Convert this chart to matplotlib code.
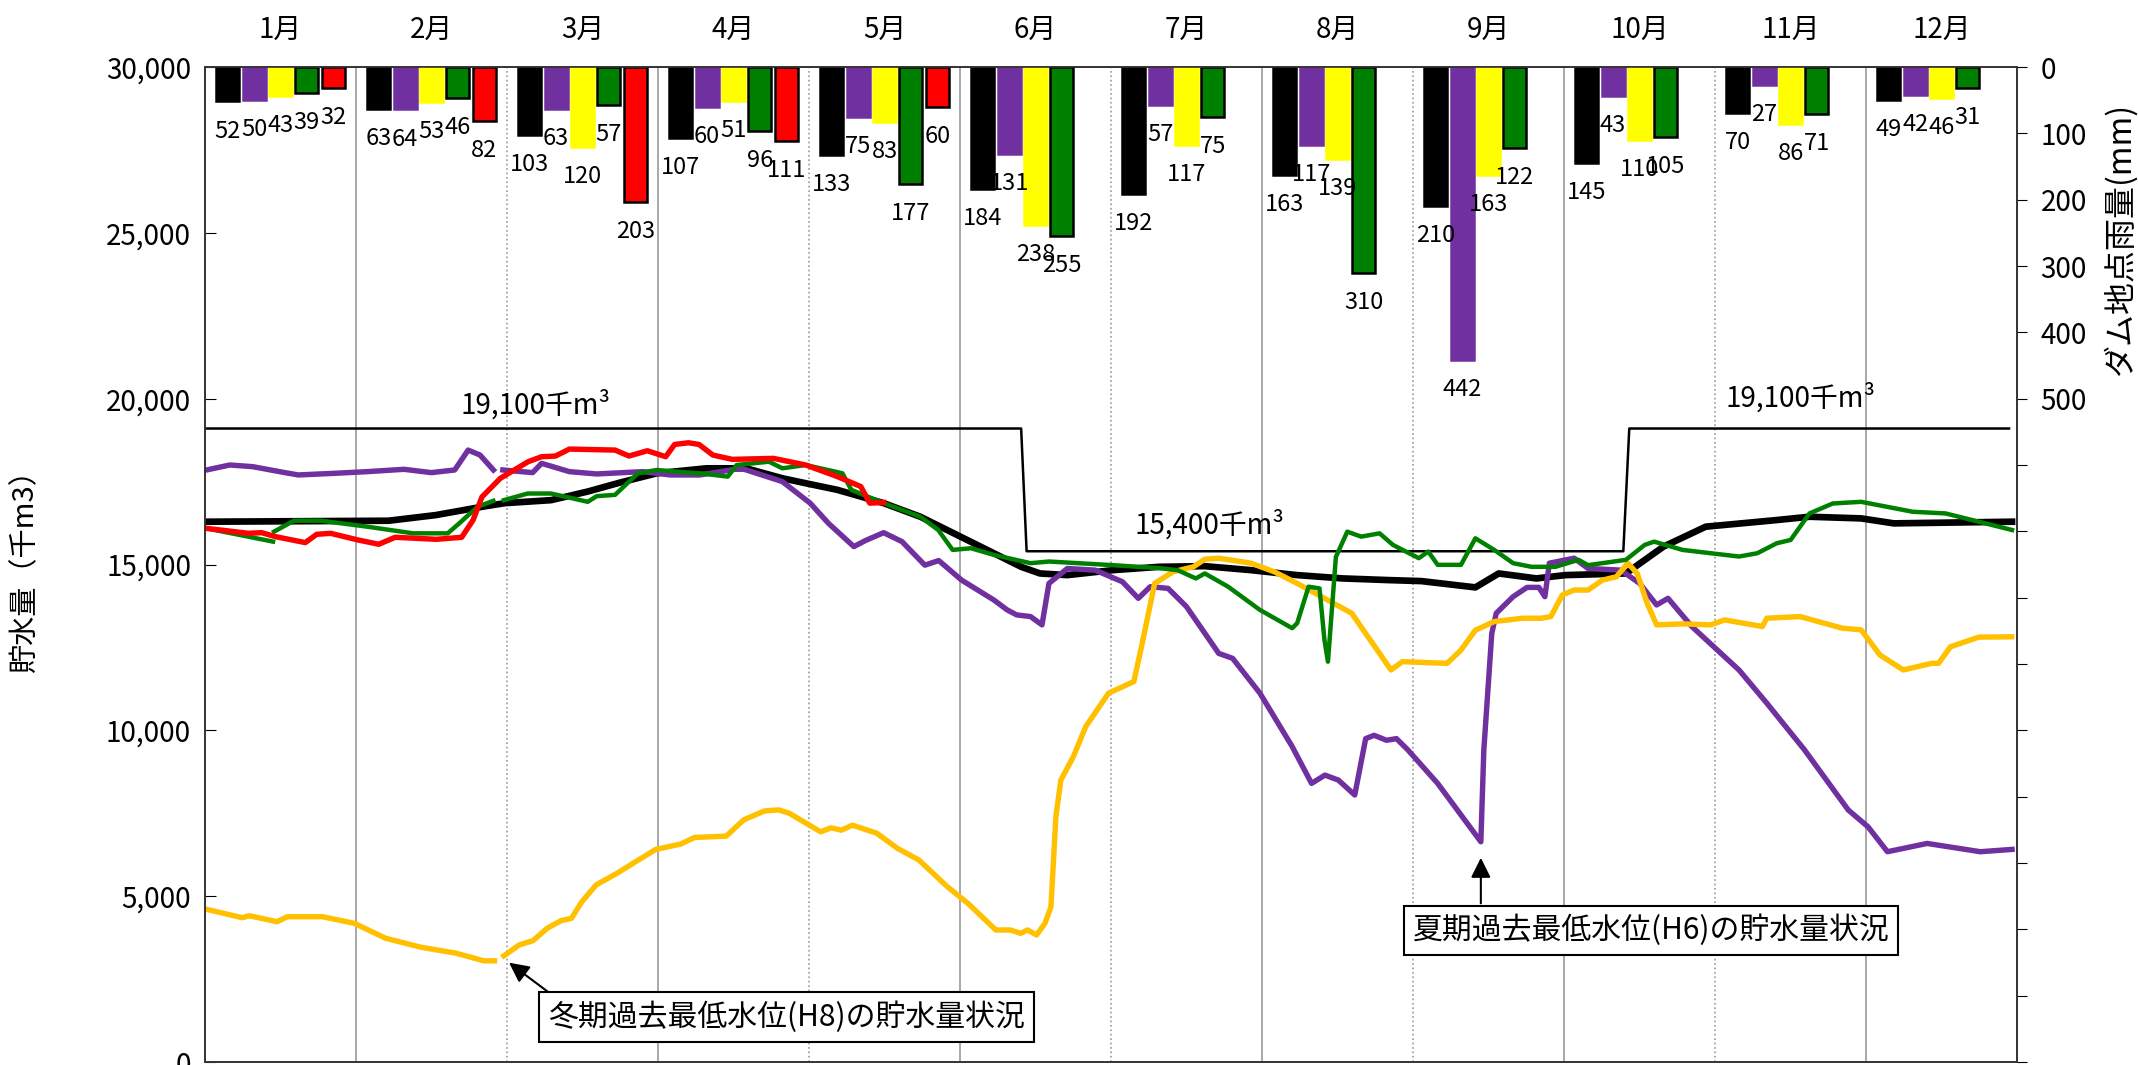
import numpy as np
import matplotlib
matplotlib.use("Agg")
import matplotlib.pyplot as plt

plt.rcParams['font.family'] = ['Noto Sans CJK JP', 'DejaVu Sans']

nan = np.nan

months = ["1月", "2月", "3月", "4月", "5月", "6月", "7月", "8月", "9月", "10月", "11月", "12月"]

# monthly rainfall at the dam (mm), one list per year
rain_black = [52, 63, 103, 107, 133, 184, 192, 163, 210, 145, 70, 49]
rain_purple = [50, 64, 63, 60, 75, 131, 57, 117, 442, 43, 27, 42]
rain_yellow = [43, 53, 120, 51, 83, 238, 117, 139, 163, 110, 86, 46]
rain_green = [39, 46, 57, 96, 177, 255, 75, 310, 122, 105, 71, 31]
rain_red = [32, 82, 203, 111, 60, nan, nan, nan, nan, nan, nan, nan]

# storage (thousand m3) against day of year
black_days = [0.3, 37, 46.5, 55.8, 60.4, 69.7, 77.1, 83.6, 91, 101, 109, 116.3, 121, 127.4,
              136.7, 144.1, 151.5, 158.9, 164.4, 168.2, 173.7, 182.9, 192.2, 201.4, 210.7,
              220, 229.2, 238.4, 245, 255.9, 260.6, 268.2, 274, 286.2, 293.8, 302.3, 316.6,
              323.2, 333.6, 340.2, 364]
black_vals = [16290, 16320, 16490, 16740, 16850, 16940, 17200, 17470, 17750, 17900, 17900,
              17600, 17450, 17250, 16850, 16440, 15890, 15340, 14930, 14730, 14680, 14830,
              14930, 14950, 14830, 14680, 14580, 14530, 14500, 14310, 14730, 14580, 14680,
              14730, 15540, 16140, 16340, 16440, 16390, 16240, 16290]

green_days = [0.3, 13.7, nan, 13.9, 17.9, 23.4, 32.7, 41.9, 48.9, 51.2, 54.9, 58.1, nan, 60.2,
              65, 69.7, 77.1, 78.9, 82.6, 87.2, 91, 97.4, 99.7, 105.3, 107.1, 113.6, 116.3,
              121, 128.4, 130.2, 136.7, 144.1, 147.7, 150.6, 154.3, 158.9, 166.3, 170, 182.9,
              192.2, 195.9, 199.6, 201.4, 206.1, 212.5, 219, 220, 222.3, 224.5, 225.5, 226.2,
              227.8, 230.1, 232.9, 236.6, 239.3, 244.5, 246.4, 248.3, 253, 255.9, 259.7,
              263.5, 267.2, 272, 276.7, 278.6, 286.2, 290, 291.9, 297.6, 309, 312.7, 316.6,
              319.4, 323.2, 327.9, 333.6, 344, 350.6, 364]
green_vals = [16090, 15690, nan, 15990, 16320, 16320, 16140, 15940, 15940, 16240, 16740, 16920,
              nan, 16940, 17140, 17140, 16890, 17060, 17100, 17750, 17850, 17770, 17750, 17650,
              18000, 18100, 17900, 18000, 17750, 17250, 16850, 16440, 16040, 15440, 15490,
              15290, 15040, 15090, 14980, 14890, 14830, 14580, 14730, 14330, 13630, 13080,
              13230, 14330, 14280, 12720, 12070, 15230, 15990, 15840, 15940, 15590, 15190,
              15390, 14990, 14990, 15790, 15440, 15040, 14930, 14930, 15140, 14980, 15140,
              15590, 15690, 15440, 15240, 15340, 15640, 15740, 16540, 16840, 16890, 16590,
              16540, 16040]

red_days = [0.3, 8.7, 11.4, 14.2, 20.2, 22.5, 25.3, 30.8, 35, 38.3, 46.6, 51.7, 54, 55.8, 59.5,
            65.1, 67.8, 70.6, 73.4, 82.6, 85.4, 89.1, 92.8, 94.6, 97.4, 99.5, 102.3, 106.2,
            114.5, 121, 127.4, 132.1, 133.9, 136.7]
red_vals = [16090, 15940, 15960, 15840, 15660, 15910, 15940, 15740, 15610, 15820, 15760, 15820,
            16340, 17040, 17600, 18100, 18250, 18270, 18480, 18450, 18270, 18430, 18250, 18620,
            18670, 18620, 18300, 18170, 18200, 18000, 17650, 17350, 16850, 16870]

purple_days = [0.3, 5, 9.6, 16.1, 18.8, 26.2, 32.7, 40.1, 45.6, 50.3, 53, 55.4, 58.1, nan, 60,
               66, 67.8, 73.4, 78.9, 88.2, 93.7, 99.7, 108, 116.3, 121.9, 125.6, 130.7, 133,
               136.7, 140.4, 145, 147.8, 152.4, 158.9, 161.6, 163.5, 166.3, 168.6, 170, 173.7,
               179.3, 184.8, 188, 190.4, 194, 197.7, 204.2, 207, 212.5, 219, 222.9, 225.6,
               228.3, 231.6, 233.8, 235.5, 238, 240, 242.3, 248.3, 257, 257.6, 259.2, 260.1,
               263.5, 266.3, 268.7, 269.9, 270.8, 275.8, 278.6, 285.2, 289, 292.4, 294.7,
               299.5, 309, 314.6, 322.2, 331, 335, 338.9, 346.9, 357.6, 364]
purple_vals = [17850, 18000, 17950, 17770, 17700, 17750, 17800, 17870, 17770, 17850, 18450,
               18300, 17850, nan, 17850, 17770, 18050, 17800, 17730, 17800, 17700, 17700, 17900,
               17500, 16850, 16240, 15540, 15720, 15960, 15690, 14980, 15120, 14530, 13930,
               13630, 13480, 13430, 13180, 14430, 14880, 14830, 14480, 13980, 14330, 14280,
               13730, 12320, 12170, 11120, 9510, 8400, 8650, 8500, 8050, 9750, 9850, 9700,
               9750, 9410, 8400, 6640, 9410, 12920, 13530, 14030, 14310, 14310, 14030, 15040,
               15190, 14880, 14830, 14430, 13780, 13980, 13130, 11820, 10820, 9410, 7600, 7090,
               6340, 6590, 6340, 6410]

orange_days = [0.4, 7.5, 8.9, 14.5, 16.6, 23.7, 30.1, 36.4, 43.5, 50.6, 56.2, 58.3, nan, 60.2,
               63.3, 66.1, 68.9, 71.7, 73.8, 75.9, 78.8, 83, 87.3, 90.8, 95.8, 98.6, 105, 108.5,
               112.7, 115.6, 117.7, 124, 126.1, 128.2, 130.4, 135.3, 139.5, 143.8, 149.5, 153.7,
               159.3, 162.2, 164.3, 165.7, 167.5, 169.2, 170.4, 171.4, 172.4, 174.9, 177.4, 182,
               187.1, 188.5, 191.3, 195, 199.1, 201.4, 204.2, 210.7, 215.4, 220, 225.5, 231,
               233.8, 236.6, 238.9, 241.2, 250.2, 253, 255.9, 259.7, 265.4, 269.2, 271.1, 273.4,
               275.8, 278.6, 281.5, 284.3, 286.6, 288.5, 290.5, 292.4, 297.6, 303.3, 306.1,
               313.7, 314.6, 321.3, 329.8, 333.6, 337.4, 342.1, 347.8, 349.2, 351.6, 357.3, 363.9]
orange_vals = [4600, 4350, 4410, 4230, 4380, 4380, 4180, 3730, 3460, 3280, 3050, 3050, nan,
               3200, 3530, 3660, 4030, 4260, 4330, 4830, 5340, 5690, 6090, 6410, 6570, 6770, 6810,
               7300, 7570, 7600, 7500, 6940, 7060, 6990, 7140, 6900, 6440, 6090, 5290, 4780,
               3980, 3980, 3880, 3980, 3830, 4180, 4680, 7400, 8500, 9200, 10110, 11120, 11470,
               12420, 14430, 14780, 14930, 15160, 15190, 15040, 14780, 14430, 13980, 13530,
               12920, 12320, 11820, 12070, 12020, 12420, 13020, 13280, 13380, 13380, 13430,
               14080, 14230, 14230, 14530, 14630, 15040, 14730, 13830, 13180, 13210, 13180,
               13330, 13130, 13380, 13430, 13080, 13030, 12270, 11820, 12020, 12020, 12520,
               12810, 12820]

# restricted water level (thousand m3)
limit_days = [0.3, 164.4, 165.5, 285.7, 286.9, 363.4]
limit_vals = [19100, 19100, 15400, 15400, 19100, 19100]

fig = plt.figure(figsize=(21.38, 10.65), dpi=100)
ax = fig.add_axes([205 / 2138, 3 / 1065, 1812 / 2138, 995 / 1065])
ax2 = ax.twinx()

month_w = 365 / 12
ax.set_xlim(0, 365)
ax.set_ylim(0, 30000)

# month grid
for i in range(1, 12):
    ls = '-' if i % 2 == 1 else ':'
    ax.axvline(i * month_w, color='#999999', lw=1.2, ls=ls, zorder=0)

ax.plot(limit_days, limit_vals, color='black', lw=1.8)
ax.plot(black_days, black_vals, color='black', lw=4.8)
ax.plot(purple_days, purple_vals, color='#7030A0', lw=3.9)
ax.plot(orange_days, orange_vals, color='#FFC000', lw=3.9)
ax.plot(green_days, green_vals, color='#008000', lw=3.2)
ax.plot(red_days, red_vals, color='#FF0000', lw=3.9)

ax.text(66.5, 19810, '19,100千m³', ha='center', va='center', fontsize=20)
ax.text(321.3, 20010, '19,100千m³', ha='center', va='center', fontsize=20)
ax.text(202.4, 16190, '15,400千m³', ha='center', va='center', fontsize=20)

# lowest level notes
ax.annotate('', xy=(60.8, 3045), xytext=(71, 1900),
            arrowprops=dict(arrowstyle='-|>', color='black', lw=1.5, mutation_scale=30))
ax.text(117.2, 1357, '冬期過去最低水位(H8)の貯水量状況', ha='center', va='center', fontsize=21.5,
        bbox=dict(boxstyle='square,pad=0.3', fc='white', ec='black', lw=1.5))
ax.annotate('', xy=(257, 6240), xytext=(257, 4700),
            arrowprops=dict(arrowstyle='-|>', color='black', lw=1.5, mutation_scale=30))
ax.text(291.3, 3965, '夏期過去最低水位(H6)の貯水量状況', ha='center', va='center', fontsize=21.5,
        bbox=dict(boxstyle='square,pad=0.3', fc='white', ec='black', lw=1.5))

# rainfall bars hanging from the top
series = [(rain_black, 'black', 'black'), (rain_purple, '#7030A0', '#7030A0'),
          (rain_yellow, '#FFFF00', '#FFFF00'), (rain_green, '#008000', 'black'),
          (rain_red, '#FF0000', 'black')]
centers = (np.arange(12) + 0.5) * month_w
for k, (vals, fc, ec) in enumerate(series):
    xs = centers + (k - 2) * 0.175 * month_w
    ax2.bar(xs, vals, width=0.152 * month_w, color=fc, edgecolor=ec, linewidth=1.8)
    for x, v in zip(xs, vals):
        if not np.isnan(v):
            ax2.annotate(str(int(v)), (x, v), xytext=(0, -13), textcoords='offset points',
                         ha='center', va='top', fontsize=17)

ax2.set_ylim(1500, 0)
ax2.set_yticks(range(0, 1600, 100))
ax2.set_yticklabels([str(v) if v <= 500 else '' for v in range(0, 1600, 100)])
ax2.tick_params(axis='y', direction='out', length=7, labelsize=20, pad=10)

ax.set_yticks(range(0, 30001, 5000))
ax.set_yticklabels([f"{v:,}" for v in range(0, 30001, 5000)])
ax.tick_params(axis='y', direction='in', length=8, labelsize=20, pad=10)

ax.set_xticks(centers)
ax.set_xticklabels(months)
ax.xaxis.tick_top()
ax.tick_params(axis='x', length=0, labelsize=20, pad=16)

for a in (ax, ax2):
    for s in a.spines.values():
        s.set_color('#333333')
        s.set_linewidth(1.2)

fig.text(25 / 2138, 1 - 564 / 1065, '貯水量（千m3）', rotation=90, ha='center', va='center',
         fontsize=21)
fig.text(2120 / 2138, 1 - 239 / 1065, 'ダム地点雨量(mm)', rotation=90, ha='center', va='center',
         fontsize=23)

fig.savefig('out.png', dpi=100)
